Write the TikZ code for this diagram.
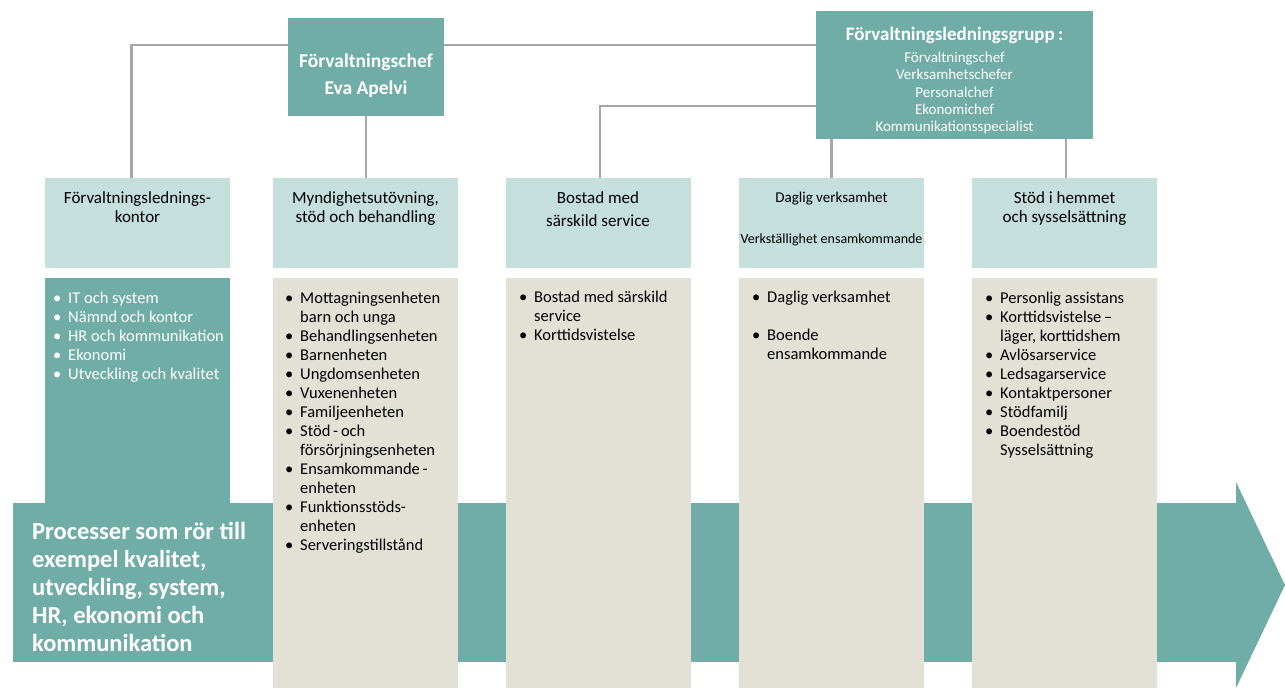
\documentclass[tikz,border=0pt]{standalone}
\usepackage{fontspec}
\setmainfont{Carlito}
\usetikzlibrary{positioning}
\definecolor{orgteal}{RGB}{112,173,166}
\definecolor{hdlight}{RGB}{197,223,220}
\definecolor{colbeige}{RGB}{227,225,214}
\definecolor{linegray}{RGB}{166,166,166}
\newcommand{\itemdot}{\makebox[15pt][l]{\textbullet}}
\newcommand{\itemcont}{\hspace*{15pt}}
\tikzset{
  link/.style={draw=linegray, line width=2.5pt},
  topbox/.style={fill=orgteal, inner sep=0pt},
  toptext/.style={text=white, align=center, inner sep=0pt},
  hdbox/.style={fill=hdlight, minimum width=185pt, minimum height=90pt, inner sep=0pt},
  hdtext/.style={align=center, anchor=north, inner sep=0pt, font=\fontsize{17}{19}\selectfont},
  colbox/.style={fill=colbeige, minimum width=185pt, minimum height=410pt, inner sep=0pt},
  items/.style={align=left, anchor=north west, inner sep=0pt, font=\fontsize{16.5}{19}\selectfont},
}
\begin{document}
\begin{tikzpicture}[x=1pt,y=-1pt]
\useasboundingbox (0,0) rectangle (1285,688);
% process arrow at the bottom
\fill[orgteal] (13,503) rectangle (1236,662);
\fill[orgteal] (1236,482) -- (1285,585) -- (1236,688) -- cycle;
\node[anchor=north west, align=left, inner sep=0pt, text=white, font=\bfseries\fontsize{24.5}{28}\selectfont] (proc) at (32,522.5)
  {Processer som rör till\\exempel kvalitet,\\utveckling, system,\\HR, ekonomi och\\kommunikation};

% top boxes
\node[topbox, minimum width=156pt, minimum height=98pt] (chef) at (366,67) {};
\node[toptext, font=\bfseries\fontsize{19.5}{27}\selectfont, yshift=-9pt] (chefname) at (chef) {Förvaltningschef\\Eva Apelvi};
\node[topbox, minimum width=277pt, minimum height=128pt] (grp) at (954.5,75) {};
\node[toptext, font=\fontsize{15}{17.2}\selectfont, yshift=-5.5pt] (grpname) at (grp)
  {{\bfseries\fontsize{19}{17.2}\selectfont Förvaltningsledningsgrupp\,:}\\[5pt]
   Förvaltningschef\\Verksamhetschefer\\Personalchef\\Ekonomichef\\Kommunikationsspecialist};

% headers
\node[hdbox] (hdA) at (137.5,223) {};
\node[hdbox] (hdB) at (365.5,223) {};
\node[hdbox] (hdC) at (598,223) {};
\node[hdbox] (hdD) at (831.5,223) {};
\node[hdbox] (hdE) at (1064.5,223) {};
\node[hdtext, below=14pt of hdA.north] (hdAt) {Förvaltningslednings-\\kontor};
\node[hdtext, below=14pt of hdB.north] (hdBt) {Myndighetsutövning,\\stöd och behandling};
\node[hdtext, below=14pt of hdC.north] (hdCt) {Bostad med\\[4pt]särskild service};
\node[hdtext, below=14pt of hdD.north, font=\fontsize{15}{17}\selectfont] (hdDt) {Daglig verksamhet};
\node[hdtext, below=56pt of hdD.north, font=\fontsize{14}{16}\selectfont] (hdDs) {Verkställighet ensamkommande};
\node[hdtext, below=14pt of hdE.north] (hdEt) {Stöd i hemmet\\och sysselsättning};

% connectors
\draw[link] ([xshift=-6pt]hdA.north) |- ([yshift=22pt]chef.west);
\draw[link] ([yshift=22pt]chef.east) -- ([yshift=22pt]chef.east -| grp.west);
\draw[link] (chef.south) -- (chef.south |- hdB.north);
\draw[link] ([yshift=-31pt]grp.west) -| ([xshift=2pt]hdC.north);
\draw[link] (grp.south -| hdD.north) -- (hdD.north);
\draw[link] ([xshift=1.5pt]grp.south -| hdE.north) -- ([xshift=1.5pt]hdE.north);

% columns
\node[fill=orgteal, minimum width=185pt, minimum height=227pt, inner sep=0pt] (colA) at (137.5,391.5) {};
\node[colbox] (colB) at (365.5,483) {};
\node[colbox] (colC) at (598,483) {};
\node[colbox] (colD) at (831.5,483) {};
\node[colbox] (colE) at (1064.5,483) {};

\node[items, text=white] (listA) at (53,292)
  {\itemdot IT och system\\\itemdot Nämnd och kontor\\\itemdot HR och kommunikation\\\itemdot Ekonomi\\\itemdot Utveckling och kvalitet};
\node[items] (listB) at (285,292)
  {\itemdot Mottagningsenheten\\\itemcont barn och unga\\\itemdot Behandlingsenheten\\\itemdot Barnenheten\\\itemdot Ungdomsenheten\\\itemdot Vuxenenheten\\\itemdot Familjeenheten\\\itemdot Stöd\,-\,och\\\itemcont försörjningsenheten\\\itemdot Ensamkommande\,-\\\itemcont enheten\\\itemdot Funktionsstöds-\\\itemcont enheten\\\itemdot Serveringstillstånd};
\node[items] (listC) at (519,291)
  {\itemdot Bostad med särskild\\\itemcont service\\\itemdot Korttidsvistelse};
\node[items] (listD) at (752,291)
  {\itemdot Daglig verksamhet\\[19pt]\itemdot Boende\\\itemcont ensamkommande};
\node[items] (listE) at (985,292)
  {\itemdot Personlig assistans\\\itemdot Korttidsvistelse\,–\\\itemcont läger, korttidshem\\\itemdot Avlösarservice\\\itemdot Ledsagarservice\\\itemdot Kontaktpersoner\\\itemdot Stödfamilj\\\itemdot Boendestöd\\\itemcont Sysselsättning};
\end{tikzpicture}
\end{document}
